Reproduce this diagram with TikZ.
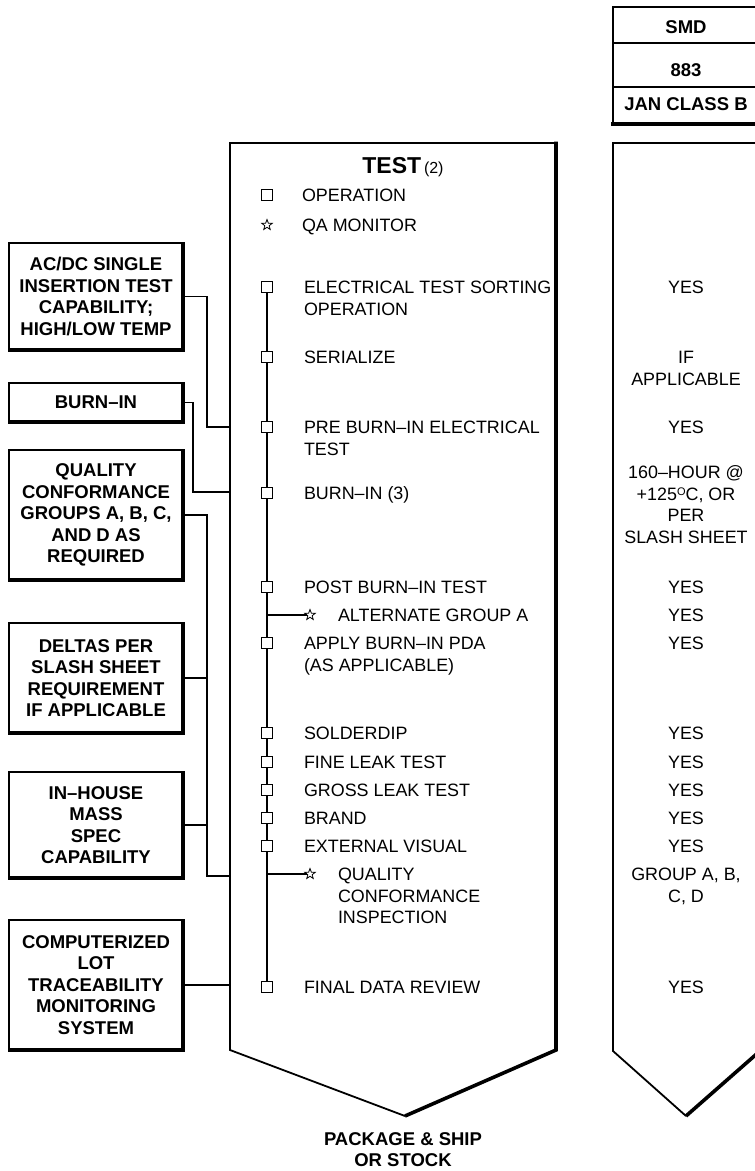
\documentclass[tikz,border=0pt]{standalone}
\usepackage{fontspec}
\setmainfont{Liberation Sans}
\usetikzlibrary{shapes.geometric}
\begin{document}
\begin{tikzpicture}[x=1pt,y=-1pt,
  every node/.style={inner sep=0pt, outer sep=0pt},
  reg/.style={font=\fontsize{17.9}{21.8}\selectfont},
  bld/.style={font=\fontsize{18.5}{21.5}\selectfont\bfseries},
  sidebox/.style={draw, line width=1.6pt, minimum width=174pt, align=center, bld},
  shadowline/.style={line width=4pt},
  wire/.style={line width=1.6pt},
  opbox/.style={draw, fill=white, line width=1.1pt, minimum size=10.5pt},
  qastar/.style={star, star points=5, star point ratio=2.4, draw, fill=white, line width=0.8pt, minimum size=11pt},
  outline/.style={line width=1.8pt, line join=miter},
  lbl/.style={reg, anchor=base west, align=left},
  ans/.style={reg, anchor=base, align=center},
]
\useasboundingbox (0,0) rectangle (755,1171);
\clip (0,0) rectangle (755,1171);

% ---------- header table ----------
\draw[line width=1.8pt] (613,124) -- (613,7) -- (760,7);
\draw[line width=1.4pt] (613,43) -- (760,43);
\draw[line width=1.4pt] (613,87) -- (760,87);
\draw[shadowline] (611,124) -- (760,124);
\node[bld] (smd) at (686,27) {SMD};
\node[bld] (mil) at (686,70) {883};
\node[bld] (jan) at (686,104) {JAN CLASS B};

% ---------- main TEST column ----------
\coordinate (mtl) at (230,143);
\coordinate (mtr) at (556,143);
\coordinate (mbr) at (556,1050);
\coordinate (mbl) at (230,1050);
\coordinate (mtip) at (405,1116);
\draw[outline] (mtr) -- (mtl) -- (mbl) -- (mtip);
\draw[line width=3.6pt] (556,141.5) -- (mbr) -- (mtip);

% ---------- right column ----------
\coordinate (rtl) at (613,143);
\coordinate (rbl) at (613,1051);
\coordinate (rtip) at (686,1116);
\draw[outline] (760,143) -- (rtl) -- (rbl) -- (rtip);
\draw[line width=3.6pt] (rtip) -- (760,1051);

% ---------- title and legend ----------
\node[anchor=base] (title) at (403,173)
  {{\fontsize{23}{23}\selectfont\bfseries TEST} {\fontsize{16}{16}\selectfont(2)}};
\node[opbox] (lsq) at (267,195) {};
\node[lbl] (lop) at (302,201.3) {OPERATION};
\node[qastar] (lst) at (267,225) {};
\node[lbl] (lqa) at (302,231.3) {QA MONITOR};

% ---------- spine ----------
\coordinate (spt) at (267,287);
\coordinate (spb) at (267,987);
\draw[line width=1.5pt] (spt) -- (spb);

% operations (base anchor = baseline of the last line)
\node[opbox] (s1) at (267,287) {};
\node[lbl] (t1) at (304,315.1) {ELECTRICAL TEST SORTING\\OPERATION};
\node[opbox] (s2) at (267,357) {};
\node[lbl] (t2) at (304,363.3) {SERIALIZE};
\node[opbox] (s3) at (267,427) {};
\node[lbl] (t3) at (304,455.1) {PRE BURN–IN ELECTRICAL\\TEST};
\node[opbox] (s4) at (267,493) {};
\node[lbl] (t4) at (304,499.3) {BURN–IN (3)};
\node[opbox] (s5) at (267,587) {};
\node[lbl] (t5) at (304,593.3) {POST BURN–IN TEST};
\coordinate (a1) at (267,615);
\node[qastar] (q1) at (310,615) {};
\draw[line width=1.3pt] (a1) -- (q1.west);
\node[lbl] (u1) at (338,621.3) {ALTERNATE GROUP A};
\node[opbox] (s6) at (267,643) {};
\node[lbl] (t6) at (304,671.1) {APPLY BURN–IN PDA\\(AS APPLICABLE)};
\node[opbox] (s7) at (267,733) {};
\node[lbl] (t7) at (304,739.3) {SOLDERDIP};
\node[opbox] (s8) at (267,762) {};
\node[lbl] (t8) at (304,768.3) {FINE LEAK TEST};
\node[opbox] (s9) at (267,790) {};
\node[lbl] (t9) at (304,796.3) {GROSS LEAK TEST};
\node[opbox] (s10) at (267,818) {};
\node[lbl] (t10) at (304,824.3) {BRAND};
\node[opbox] (s11) at (267,846) {};
\node[lbl] (t11) at (304,852.3) {EXTERNAL VISUAL};
\coordinate (a2) at (267,874);
\node[qastar] (q2) at (310,874) {};
\draw[line width=1.3pt] (a2) -- (q2.west);
\node[lbl] (u2) at (338,923.9) {QUALITY\\CONFORMANCE\\INSPECTION};
\node[opbox] (s12) at (267,987) {};
\node[lbl] (t12) at (304,993.3) {FINAL DATA REVIEW};

% ---------- right column answers ----------
\node[ans] (r1) at (686,293.3) {YES};
\node[ans] (r2) at (686,385.1) {IF\\APPLICABLE};
\node[ans] (r3) at (686,433.3) {YES};
\node[ans] (r4) at (686,543.7) {160–HOUR @\\+125\raisebox{5pt}{\fontsize{11}{11}\selectfont O}C, OR\\PER\\SLASH SHEET};
\node[ans] (r5) at (686,593.3) {YES};
\node[ans] (r6) at (686,621.3) {YES};
\node[ans] (r7) at (686,649.3) {YES};
\node[ans] (r8) at (686,739.3) {YES};
\node[ans] (r9) at (686,768.3) {YES};
\node[ans] (r10) at (686,796.3) {YES};
\node[ans] (r11) at (686,824.3) {YES};
\node[ans] (r12) at (686,852.3) {YES};
\node[ans] (r13) at (686,902.1) {GROUP A, B,\\C, D};
\node[ans] (r14) at (686,993.3) {YES};

% ---------- side boxes ----------
\node[sidebox, minimum height=107pt] (b1) at (96,296.5)
  {AC/DC SINGLE\\INSERTION TEST\\CAPABILITY;\\HIGH/LOW TEMP};
\node[sidebox, minimum height=39pt] (b2) at (96,402.5) {BURN–IN};
\node[sidebox, minimum height=130pt] (b3) at (96,515)
  {QUALITY\\CONFORMANCE\\GROUPS A, B, C,\\AND D AS\\REQUIRED};
\node[sidebox, minimum height=110pt] (b4) at (96,678)
  {DELTAS PER\\SLASH SHEET\\REQUIREMENT\\IF APPLICABLE};
\node[sidebox, minimum height=106pt] (b5) at (96,825)
  {IN–HOUSE\\MASS\\SPEC\\CAPABILITY};
\node[sidebox, minimum height=130pt] (b6) at (96,985)
  {COMPUTERIZED\\LOT\\TRACEABILITY\\MONITORING\\SYSTEM};
\foreach \b in {b1,b2,b3,b4,b5,b6}{
  \draw[shadowline] ([yshift=0.8pt]\b.north east) -- (\b.south east) -- ([xshift=-0.8pt]\b.south west);
}

% ---------- connectors ----------
\coordinate (j1) at (230,427);
\coordinate (j2) at (230,492);
\coordinate (j3) at (230,876);
\coordinate (j6) at (230,985);
\coordinate (bus) at (207,0);
\draw[wire] (b1.east) -- ++(24,0) |- (j1);
\draw[wire] (b2.east) -- ++(10,0) |- (j2);
\draw[wire] (b3.east) -- (b3.east -| bus) |- (j3);
\draw[wire] (b4.east) -- (b4.east -| bus);
\draw[wire] (b5.east) -- (b5.east -| bus);
\draw[wire] (b6.east) -- (j6);

% ---------- footer ----------
\node[bld, anchor=base, align=center] (pkg) at (403,1166.5)
  {PACKAGE \& SHIP\\OR STOCK};
\end{tikzpicture}
\end{document}
